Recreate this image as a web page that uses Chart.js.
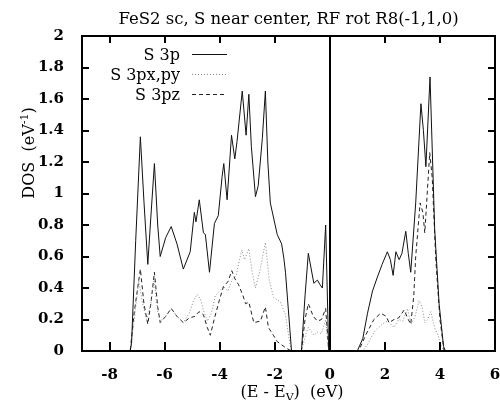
<!DOCTYPE html>
<html>
<head>
<meta charset="utf-8">
<script src="https://cdn.jsdelivr.net/npm/chart.js@4.4.1/dist/chart.umd.min.js"></script>
<style>
  html, body { margin: 0; padding: 0; background: #fff; }
</style>
</head>
<body>
<canvas id="dosChart" width="500" height="400"></canvas>
<script>
// chart text
const titleText = 'FeS2 sc, S near center, RF rot R8(-1,1,0)';
const seriesNames = ['S 3p', 'S 3px,py', 'S 3pz'];

// tick values
const xTicks = [-8, -6, -4, -2, 0, 2, 4, 6];
const yTicks = [0, 0.2, 0.4, 0.6, 0.8, 1, 1.2, 1.4, 1.6, 1.8, 2];

// S 3p (total)
const p_E = [-9, -7.25, -7.2, -7.05, -6.88, -6.75, -6.61, -6.5, -6.37, -6.25, -6.16, -5.96, -5.76, -5.55, -5.32, -5.07,
  -4.92, -4.86, -4.74, -4.59, -4.52, -4.37, -4.19, -4.05, -3.91, -3.85, -3.73, -3.57, -3.45, -3.37, -3.18, -3.04,
  -2.94, -2.85, -2.70, -2.60, -2.45, -2.34, -2.25, -2.16, -1.91, -1.75, -1.67, -1.61, -1.39, -1.03, -0.9, -0.78,
  -0.58, -0.45, -0.35, -0.27, -0.15, -0.04, 1.0, 1.2, 1.37, 1.55, 1.73, 1.9, 2.09, 2.2, 2.30, 2.40, 2.52, 2.62,
  2.76, 2.85, 2.94, 3.12, 3.31, 3.40, 3.49, 3.64, 3.81, 3.97, 4.13, 4.2, 6];
const p_dos = [0, 0, 0.05, 0.7, 1.36, 0.95, 0.55, 0.85, 1.19, 0.8, 0.60, 0.72, 0.79, 0.68, 0.52, 0.63,
  0.88, 0.82, 0.96, 0.75, 0.74, 0.50, 0.81, 0.86, 1.11, 1.19, 0.96, 1.37, 1.22, 1.33, 1.65, 1.37,
  1.63, 1.30, 0.98, 1.05, 1.35, 1.65, 1.20, 0.94, 0.74, 0.68, 0.59, 0.50, 0, 0, 0.35, 0.62,
  0.43, 0.45, 0.42, 0.40, 0.80, 0, 0, 0.08, 0.24, 0.38, 0.47, 0.55, 0.63, 0.58, 0.48, 0.63, 0.58, 0.62,
  0.76, 0.62, 0.50, 0.94, 1.57, 1.40, 1.17, 1.74, 0.77, 0.30, 0.03, 0, 0];

// S 3px,py
const pxy_E = [-9, -7.25, -7.1, -6.94, -6.8, -6.65, -6.5, -6.38, -6.25, -6.16, -5.96, -5.76, -5.55, -5.32, -5.1, -4.95,
  -4.82, -4.70, -4.59, -4.45, -4.30, -4.16, -4.0, -3.86, -3.70, -3.56, -3.40, -3.28, -3.19, -3.10, -2.94, -2.82,
  -2.70, -2.55, -2.34, -2.20, -2.04, -1.79, -1.61, -1.5, -1.4, -1.03, -0.85, -0.78, -0.58, -0.45, -0.3, -0.15,
  -0.04, 1.2, 1.4, 1.6, 1.9, 2.1, 2.33, 2.5, 2.65, 2.82, 2.95, 3.1, 3.24, 3.35, 3.45, 3.55, 3.67, 3.80,
  3.91, 4.05, 4.15, 6];
const pxy_dos = [0, 0, 0.2, 0.45, 0.3, 0.2, 0.3, 0.45, 0.25, 0.19, 0.22, 0.27, 0.22, 0.18, 0.24, 0.32,
  0.36, 0.33, 0.26, 0.19, 0.24, 0.35, 0.38, 0.41, 0.38, 0.45, 0.48, 0.58, 0.64, 0.58, 0.65, 0.50,
  0.40, 0.50, 0.69, 0.45, 0.34, 0.31, 0.23, 0.10, 0, 0, 0.12, 0.15, 0.10, 0.12, 0.11, 0.20,
  0, 0, 0.05, 0.12, 0.17, 0.19, 0.15, 0.20, 0.19, 0.27, 0.17, 0.22, 0.32, 0.28, 0.18, 0.20, 0.25, 0.15,
  0.11, 0.03, 0, 0];

// S 3pz
const pz_E = [-9, -7.25, -7.1, -6.88, -6.75, -6.61, -6.5, -6.37, -6.25, -6.16, -5.96, -5.76, -5.55, -5.32, -5.1, -4.9,
  -4.75, -4.59, -4.45, -4.34, -4.2, -4.0, -3.86, -3.70, -3.56, -3.45, -3.31, -3.15, -3.06, -2.94, -2.76, -2.52,
  -2.34, -2.23, -2.05, -1.91, -1.6, -1.4, -1.03, -0.9, -0.78, -0.6, -0.45, -0.3, -0.15, -0.04, 1.05, 1.3,
  1.6, 1.85, 2.05, 2.15, 2.33, 2.5, 2.70, 2.85, 2.94, 3.05, 3.12, 3.28, 3.38, 3.45, 3.63, 3.72, 3.85, 4.0,
  4.1, 4.15, 6];
const pz_dos = [0, 0, 0.25, 0.52, 0.3, 0.17, 0.3, 0.50, 0.28, 0.18, 0.22, 0.27, 0.22, 0.18, 0.21, 0.22,
  0.25, 0.23, 0.15, 0.10, 0.20, 0.33, 0.41, 0.44, 0.51, 0.46, 0.42, 0.35, 0.30, 0.31, 0.18, 0.19,
  0.28, 0.15, 0.10, 0.06, 0.02, 0, 0, 0.20, 0.30, 0.22, 0.19, 0.20, 0.27, 0, 0, 0.10,
  0.20, 0.24, 0.22, 0.18, 0.20, 0.21, 0.26, 0.20, 0.17, 0.35, 0.60, 0.94, 0.88, 0.75, 1.26, 1.10, 0.58, 0.20,
  0.07, 0, 0];

const serif = "'DejaVu Serif', serif";
const toPoints = (xs, ys) => xs.map((x, i) => ({ x: x, y: ys[i] }));

const styles = [
  { color: '#111', dash: [] },
  { color: '#888', dash: [1, 2] },
  { color: '#222', dash: [4, 3] }
];

// box, inward ticks on all sides, zero line (filled rects, 2px wide)
const framePlugin = {
  id: 'frame',
  afterDraw(chart) {
    const ctx = chart.ctx;
    const a = chart.chartArea;
    const xs = chart.scales.x, ys = chart.scales.y;
    const tl = 8, w = 2;
    const L = Math.round(a.left) - 1, R = Math.round(a.right) - 1;
    const T = Math.round(a.top) - 1, B = Math.round(a.bottom) - 1;
    ctx.save();
    ctx.globalAlpha = 1;
    ctx.fillStyle = '#000';
    ctx.fillRect(L, T, R - L + w, w);
    ctx.fillRect(L, B, R - L + w, w);
    ctx.fillRect(L, T, w, B - T + w);
    ctx.fillRect(R, T, w, B - T + w);
    xTicks.forEach(v => {
      const px = Math.round(xs.getPixelForValue(v)) - 1;
      ctx.fillRect(px, B - tl, w, tl);
      ctx.fillRect(px, T, w, tl);
    });
    yTicks.forEach(v => {
      const py = Math.round(ys.getPixelForValue(v)) - 1;
      ctx.fillRect(L, py, tl, w);
      ctx.fillRect(R - tl + w, py, tl, w);
    });
    const zx = Math.round(xs.getPixelForValue(0)) - 1;
    ctx.fillRect(zx, T, w, B - T);
    ctx.restore();
  }
};

// gnuplot-like key, text right aligned with sample line after it
const keyPlugin = {
  id: 'key',
  afterDraw(chart) {
    const ctx = chart.ctx;
    const rows = [56, 76, 96];
    ctx.save();
    ctx.font = '16px ' + serif;
    ctx.fillStyle = '#000';
    ctx.textAlign = 'right';
    ctx.textBaseline = 'middle';
    seriesNames.forEach((name, i) => {
      ctx.fillText(name, 180, rows[i]);
      ctx.beginPath();
      ctx.setLineDash(styles[i].dash);
      ctx.strokeStyle = styles[i].color;
      ctx.lineWidth = 1;
      ctx.moveTo(192, rows[i] - 1.5);
      ctx.lineTo(227, rows[i] - 1.5);
      ctx.stroke();
    });
    ctx.restore();
  }
};

// axis titles with sub/superscripts
function drawParts(ctx, parts, cx, y) {
  let total = 0;
  parts.forEach(p => { ctx.font = p.size + 'px ' + serif; total += ctx.measureText(p.t).width; });
  let x = cx - total / 2;
  parts.forEach(p => {
    ctx.font = p.size + 'px ' + serif;
    ctx.fillText(p.t, x, y + p.dy);
    x += ctx.measureText(p.t).width;
  });
}

const axisTitlePlugin = {
  id: 'axisTitles',
  afterDraw(chart) {
    const ctx = chart.ctx;
    ctx.save();
    ctx.fillStyle = '#000';
    ctx.textAlign = 'left';
    ctx.textBaseline = 'alphabetic';
    drawParts(ctx, [
      { t: '(E - E', size: 16, dy: 0 },
      { t: 'V', size: 11, dy: 4 },
      { t: ')  (eV)', size: 16, dy: 0 }
    ], 292, 397);
    ctx.translate(34, 153);
    ctx.rotate(-Math.PI / 2);
    drawParts(ctx, [
      { t: 'DOS  (eV', size: 16, dy: 0 },
      { t: '-1', size: 11, dy: -6 },
      { t: ')', size: 16, dy: 0 }
    ], 0, 0);
    ctx.restore();
  }
};

new Chart(document.getElementById('dosChart'), {
  type: 'scatter',
  data: {
    datasets: [
      { label: seriesNames[0], data: toPoints(p_E, p_dos) },
      { label: seriesNames[1], data: toPoints(pxy_E, pxy_dos) },
      { label: seriesNames[2], data: toPoints(pz_E, pz_dos) }
    ].map((d, i) => Object.assign(d, {
      showLine: true,
      borderColor: styles[i].color,
      borderDash: styles[i].dash,
      borderWidth: 1,
      pointRadius: 0,
      tension: 0
    }))
  },
  options: {
    responsive: false,
    animation: false,
    layout: { padding: { left: 0, right: 5, top: 0, bottom: 0 } },
    plugins: {
      legend: { display: false },
      tooltip: { enabled: false },
      title: {
        display: true,
        text: titleText,
        fullSize: false,
        color: '#000',
        font: { family: serif, size: 16.5, weight: 'normal' },
        padding: { top: 10, bottom: 6.2 }
      }
    },
    scales: {
      x: {
        type: 'linear',
        min: -9,
        max: 6,
        afterBuildTicks: s => { s.ticks = xTicks.map(v => ({ value: v })); },
        afterFit: s => { s.height = 49; s.paddingLeft = 0; s.paddingRight = 0; },
        grid: { display: false },
        border: { display: false },
        ticks: { color: '#000', padding: 7, font: { family: serif, size: 15, weight: 'bold' }, maxRotation: 0 }
      },
      y: {
        min: 0,
        max: 2,
        afterBuildTicks: s => { s.ticks = yTicks.map(v => ({ value: v })); },
        afterFit: s => { s.width = 82; s.paddingTop = 0; s.paddingBottom = 0; },
        grid: { display: false },
        border: { display: false },
        ticks: {
          color: '#000',
          padding: 10,
          font: { family: serif, size: 15, weight: 'bold' },
          callback: v => String(+v.toFixed(1))
        }
      }
    }
  },
  plugins: [framePlugin, keyPlugin, axisTitlePlugin]
});
</script>
</body>
</html>
